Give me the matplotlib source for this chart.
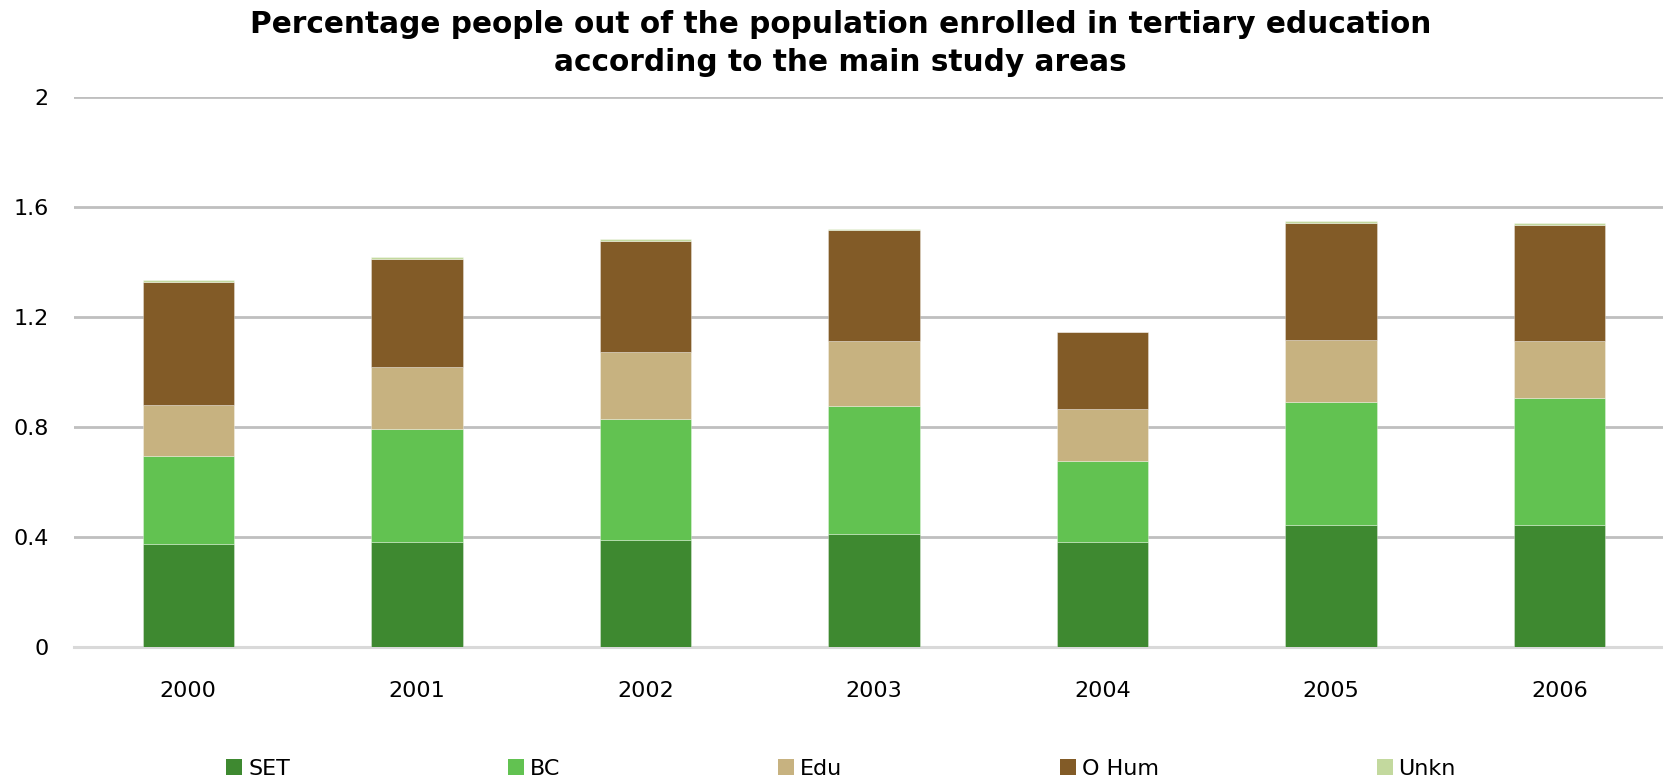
import matplotlib
matplotlib.use('Agg')
import matplotlib.pyplot as plt
import numpy as np
from matplotlib.patches import Patch

# ---- data ----
years = ['2000', '2001', '2002', '2003', '2004', '2005', '2006']
series_names = ['SET', 'BC', 'Edu', 'O Hum', 'Unkn']
SET = [0.375, 0.383, 0.390, 0.413, 0.383, 0.443, 0.443]
BC = [0.321, 0.409, 0.440, 0.465, 0.292, 0.449, 0.463]
EDU = [0.185, 0.227, 0.244, 0.233, 0.191, 0.226, 0.205]
OHUM = [0.445, 0.390, 0.403, 0.403, 0.279, 0.424, 0.424]
UNKN = [0.008, 0.007, 0.006, 0.006, 0.002, 0.006, 0.006]
y_ticks = [0, 0.4, 0.8, 1.2, 1.6, 2]
y_tick_labels = ['0', '0.4', '0.8', '1.2', '1.6', '2']
title = ('Percentage people out of the population enrolled in tertiary education\n'
         'according to the main study areas')

colors = ['#3E8930', '#62C251', '#C7B280', '#825B27', '#C3D99E']
series = [SET, BC, EDU, OHUM, UNKN]

W, H = 1663, 783
fig = plt.figure(figsize=(W / 100, H / 100), dpi=100)
ax = fig.add_axes([74 / W, (H - 647.3) / H, (1674 - 74) / W, (647.3 - 96.7) / H])

x = np.arange(len(years))
bottom = np.zeros(len(years))
for name, vals, c in zip(series_names, series, colors):
    v = np.array(vals)
    ax.bar(x, v, width=0.4, bottom=bottom, color=c, label=name,
           edgecolor=(1, 1, 1, 0.45), linewidth=0.5, zorder=3)
    bottom += v

ax.set_xlim(-0.5, len(years) - 0.5)
ax.set_ylim(0, 2)
ax.set_yticks(y_ticks)
ax.set_yticklabels(y_tick_labels)
ax.set_xticks(x)
ax.set_xticklabels(years)
ax.tick_params(axis='both', length=0, labelsize=16, colors='black')
ax.tick_params(axis='x', pad=24)
ax.tick_params(axis='y', pad=18)
ax.yaxis.grid(True, color='#BFBFBF', linewidth=2.0, zorder=0)
ax.set_axisbelow(True)
for s in ['top', 'right', 'left']:
    ax.spines[s].set_visible(False)
ax.spines['bottom'].set_color('#D9D9D9')
ax.spines['bottom'].set_linewidth(2.2)
ax.spines['bottom'].set_zorder(1)

fig.text(840.5 / W, 1 - 10 / H, title, ha='center', va='top',
         fontsize=21.3, fontweight='bold', family='DejaVu Sans', linespacing=1.38)

handles = [Patch(facecolor=c, edgecolor='none') for c in colors]
fig.legend(handles, series_names, loc='center left', bbox_to_anchor=(226 / W, 1 - 769 / H),
           ncol=5, frameon=False, fontsize=16, handlelength=0.72, handleheight=0.72,
           handletextpad=0.27, columnspacing=9.8, borderpad=0, borderaxespad=0)

fig.savefig('out.png', dpi=100)
